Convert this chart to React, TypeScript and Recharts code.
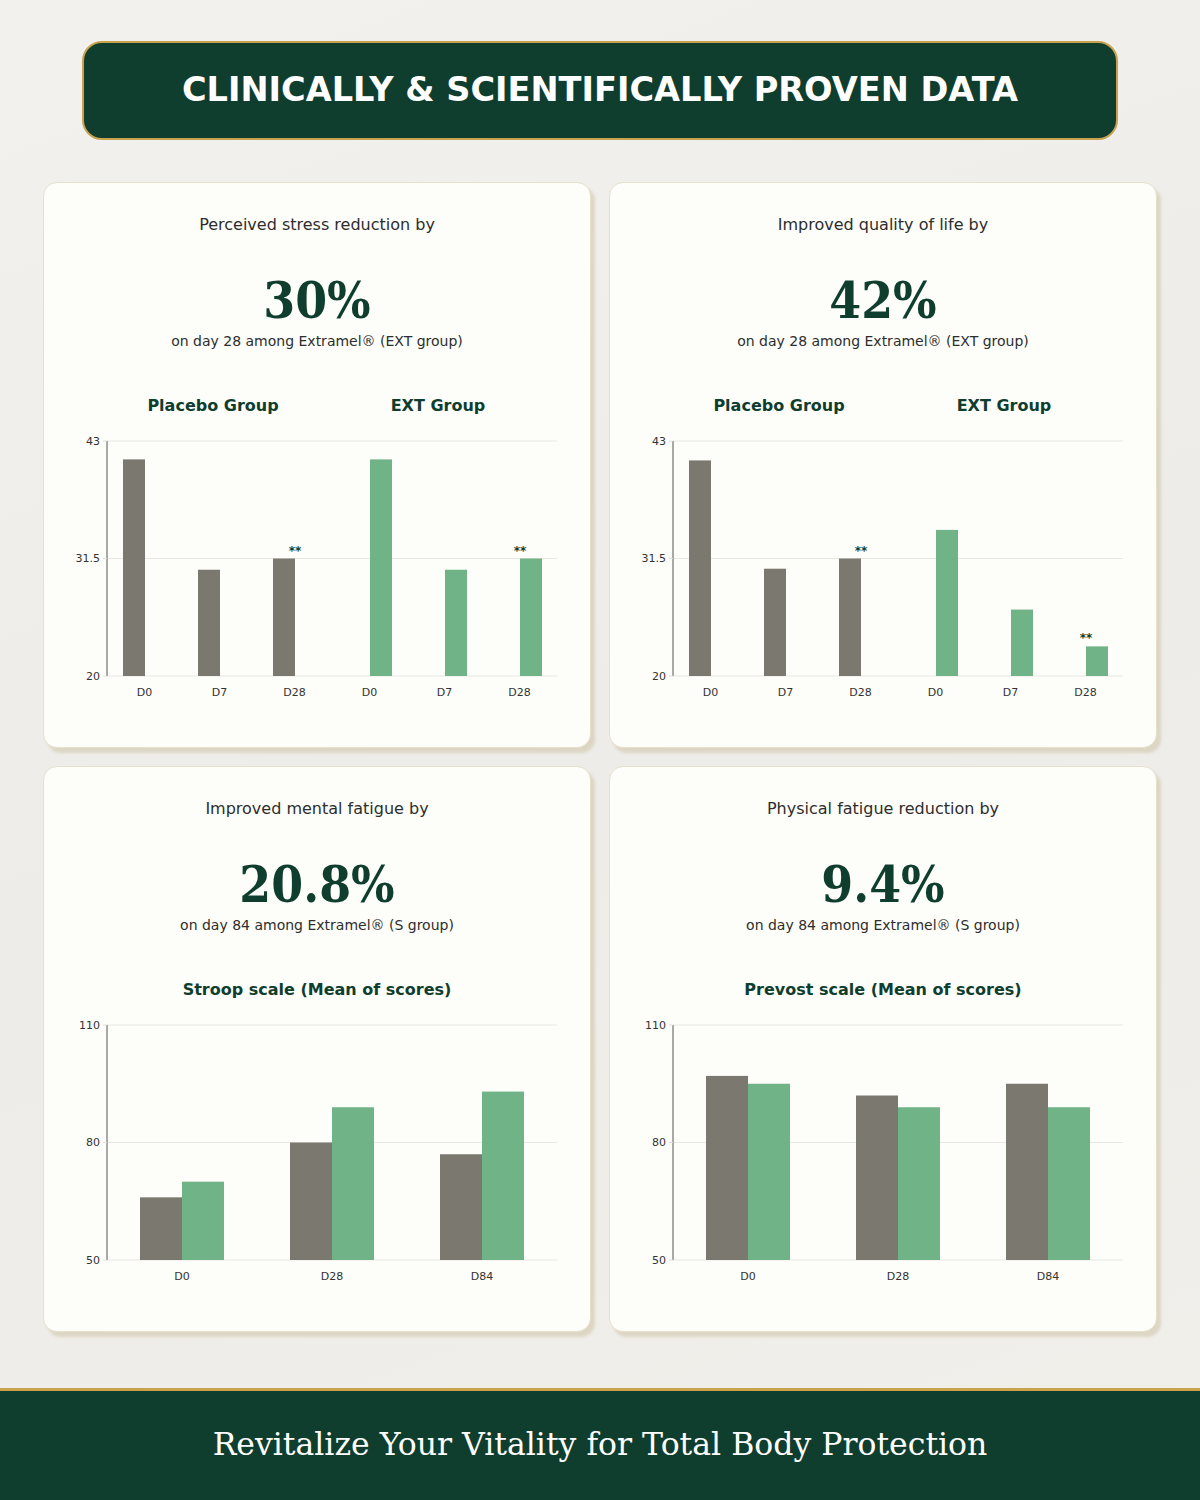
import React from "react";
import { BarChart, Bar, XAxis, YAxis, CartesianGrid } from "recharts";

// ---------- DATA ----------
const groupDays = ["D0", "D7", "D28"];
const stressPlacebo = [41.2, 30.4, 31.5];
const stressExt = [41.2, 30.4, 31.5];
const stressSig = ["", "", "**"];

const qolPlacebo = [41.1, 30.5, 31.5];
const qolExt = [34.3, 26.5, 22.9];
const qolSig = ["", "", "**"];

const fatigueDays = ["D0", "D28", "D84"];
const stroopPlacebo = [66, 80, 77];
const stroopExt = [70, 89, 93];
const prevostPlacebo = [97, 92, 95];
const prevostExt = [95, 89, 89];

const groupTicks = [20, 31.5, 43];
const fatigueTicks = [50, 80, 110];

// ---------- COLORS ----------
const DARK = "#0f3d2e";
const GOLD = "#c9a24e";
const GRAY = "#7b786f";
const GREEN = "#6fb386";

type Row = {
  day: string;
  placebo: number | null;
  ext: number | null;
  placeboSig: string;
  extSig: string;
};

function buildGroupRows(placebo: number[], ext: number[], sig: string[]): Row[] {
  const rows: Row[] = [];
  groupDays.forEach((d, i) =>
    rows.push({ day: d, placebo: placebo[i], ext: null, placeboSig: sig[i], extSig: "" })
  );
  groupDays.forEach((d, i) =>
    rows.push({ day: d, placebo: null, ext: ext[i], placeboSig: "", extSig: sig[i] })
  );
  return rows;
}

function buildPairRows(placebo: number[], ext: number[]): Row[] {
  return fatigueDays.map((d, i) => ({
    day: d,
    placebo: placebo[i],
    ext: ext[i],
    placeboSig: "",
    extSig: "",
  }));
}

const makeShape = (side: "right" | "left", sigKey: "placeboSig" | "extSig") => (p: any) => {
  const { x, y, width, height, fill, payload } = p;
  if (width == null || height == null) return null;
  const sig = payload ? payload[sigKey] : "";
  const tx = side === "right" ? x + width : x;
  return (
    <g>
      <rect x={x} y={y} width={width} height={height} fill={fill} />
      {sig ? (
        <text
          x={tx}
          y={y - 4}
          textAnchor="middle"
          fontSize={12}
          fontWeight="bold"
          fill={DARK}
          fontFamily="DejaVu Sans"
        >
          {sig}
        </text>
      ) : null}
    </g>
  );
};

const tickStyle = { fontSize: 11, fill: "#333", fontFamily: "DejaVu Sans" };

function Chart({
  rows,
  domain,
  ticks,
  barSize,
}: {
  rows: Row[];
  domain: [number, number];
  ticks: number[];
  barSize: number;
}) {
  return (
    <BarChart
      width={546}
      height={280}
      data={rows}
      margin={{ top: 10, right: 33, bottom: 5, left: 9 }}
      barGap={0}
      barSize={barSize}
    >
      <CartesianGrid vertical={false} stroke="#e9e8e3" />
      <XAxis
        dataKey="day"
        interval={0}
        axisLine={false}
        tickLine={false}
        tick={tickStyle}
        tickMargin={6}
        height={30}
      />
      <YAxis
        width={54}
        domain={domain}
        ticks={ticks}
        allowDataOverflow
        axisLine={{ stroke: "#555", strokeWidth: 1 }}
        tickLine={{ stroke: "#ddd" }}
        tickSize={4}
        tickMargin={3}
        tick={tickStyle}
      />
      <Bar
        dataKey="placebo"
        fill={GRAY}
        isAnimationActive={false}
        shape={makeShape("right", "placeboSig")}
      />
      <Bar
        dataKey="ext"
        fill={GREEN}
        isAnimationActive={false}
        shape={makeShape("left", "extSig")}
      />
    </BarChart>
  );
}

function Card({
  left,
  top,
  subtitle,
  big,
  note,
  children,
  labels,
}: {
  left: number;
  top: number;
  subtitle: string;
  big: string;
  note: string;
  children: React.ReactNode;
  labels: { text: string; x: number }[];
}) {
  return (
    <div
      style={{
        position: "absolute",
        left,
        top,
        width: 548,
        height: 566,
        boxSizing: "border-box",
        background: "#fdfdf9",
        border: "1px solid #e7e0cc",
        borderRadius: 14,
        boxShadow: "4px 5px 3px rgba(205,195,165,0.55)",
      }}
    >
      <div
        style={{
          position: "absolute",
          top: 32,
          left: 0,
          width: 546,
          textAlign: "center",
          fontFamily: "DejaVu Sans",
          fontSize: 16,
          color: "#2d2d2d",
          lineHeight: "20px",
        }}
      >
        {subtitle}
      </div>
      <div
        style={{
          position: "absolute",
          top: 87,
          left: 0,
          width: 546,
          textAlign: "center",
          fontFamily: "DejaVu Serif Condensed, DejaVu Serif",
          fontWeight: "bold",
          fontSize: 51,
          color: DARK,
          lineHeight: "60px",
        }}
      >
        {big}
      </div>
      <div
        style={{
          position: "absolute",
          top: 149,
          left: 0,
          width: 546,
          textAlign: "center",
          fontFamily: "DejaVu Sans",
          fontSize: 14,
          color: "#2d2d2d",
          lineHeight: "18px",
        }}
      >
        {note}
      </div>
      {labels.map((l) => (
        <div
          key={l.text + l.x}
          style={{
            position: "absolute",
            top: 213,
            left: l.x - 200,
            width: 400,
            textAlign: "center",
            fontFamily: "DejaVu Sans",
            fontWeight: "bold",
            fontSize: 16,
            color: DARK,
            lineHeight: "20px",
          }}
        >
          {l.text}
        </div>
      ))}
      <div style={{ position: "absolute", top: 248, left: 0 }}>{children}</div>
    </div>
  );
}

export default function App() {
  const groupLabels = [
    { text: "Placebo Group", x: 169 },
    { text: "EXT Group", x: 394 },
  ];
  return (
    <div
      style={{
        position: "absolute",
        left: 0,
        top: 0,
        width: 1200,
        height: 1500,
        overflow: "hidden",
        background: "linear-gradient(160deg, #f3f1ed 0%, #edece8 50%, #f1efea 100%)",
      }}
    >
      <div
        style={{
          position: "absolute",
          left: 82,
          top: 41,
          width: 1036,
          height: 99,
          boxSizing: "border-box",
          background: DARK,
          border: `2px solid ${GOLD}`,
          borderRadius: 20,
          display: "flex",
          alignItems: "center",
          justifyContent: "center",
          color: "#fff",
          fontFamily: "DejaVu Sans",
          fontWeight: "bold",
          fontSize: 33.6,
          paddingBottom: 2,
        }}
      >
        CLINICALLY &amp; SCIENTIFICALLY PROVEN DATA
      </div>

      <Card
        left={43}
        top={182}
        subtitle="Perceived stress reduction by"
        big="30%"
        note="on day 28 among Extramel® (EXT group)"
        labels={groupLabels}
      >
        <Chart
          rows={buildGroupRows(stressPlacebo, stressExt, stressSig)}
          domain={[20, 43]}
          ticks={groupTicks}
          barSize={22}
        />
      </Card>
      <Card
        left={609}
        top={182}
        subtitle="Improved quality of life by"
        big="42%"
        note="on day 28 among Extramel® (EXT group)"
        labels={groupLabels}
      >
        <Chart
          rows={buildGroupRows(qolPlacebo, qolExt, qolSig)}
          domain={[20, 43]}
          ticks={groupTicks}
          barSize={22}
        />
      </Card>
      <Card
        left={43}
        top={766}
        subtitle="Improved mental fatigue by"
        big="20.8%"
        note="on day 84 among Extramel® (S group)"
        labels={[{ text: "Stroop scale (Mean of scores)", x: 273 }]}
      >
        <Chart
          rows={buildPairRows(stroopPlacebo, stroopExt)}
          domain={[50, 110]}
          ticks={fatigueTicks}
          barSize={42}
        />
      </Card>
      <Card
        left={609}
        top={766}
        subtitle="Physical fatigue reduction by"
        big="9.4%"
        note="on day 84 among Extramel® (S group)"
        labels={[{ text: "Prevost scale (Mean of scores)", x: 273 }]}
      >
        <Chart
          rows={buildPairRows(prevostPlacebo, prevostExt)}
          domain={[50, 110]}
          ticks={fatigueTicks}
          barSize={42}
        />
      </Card>

      <div
        style={{
          position: "absolute",
          left: 0,
          top: 1388,
          width: 1200,
          height: 112,
          boxSizing: "border-box",
          background: DARK,
          borderTop: `3px solid ${GOLD}`,
          display: "flex",
          alignItems: "center",
          justifyContent: "center",
          color: "#fff",
          fontFamily: "DejaVu Serif",
          fontSize: 31.5,
          paddingBottom: 4,
        }}
      >
        Revitalize Your Vitality for Total Body Protection
      </div>
    </div>
  );
}
